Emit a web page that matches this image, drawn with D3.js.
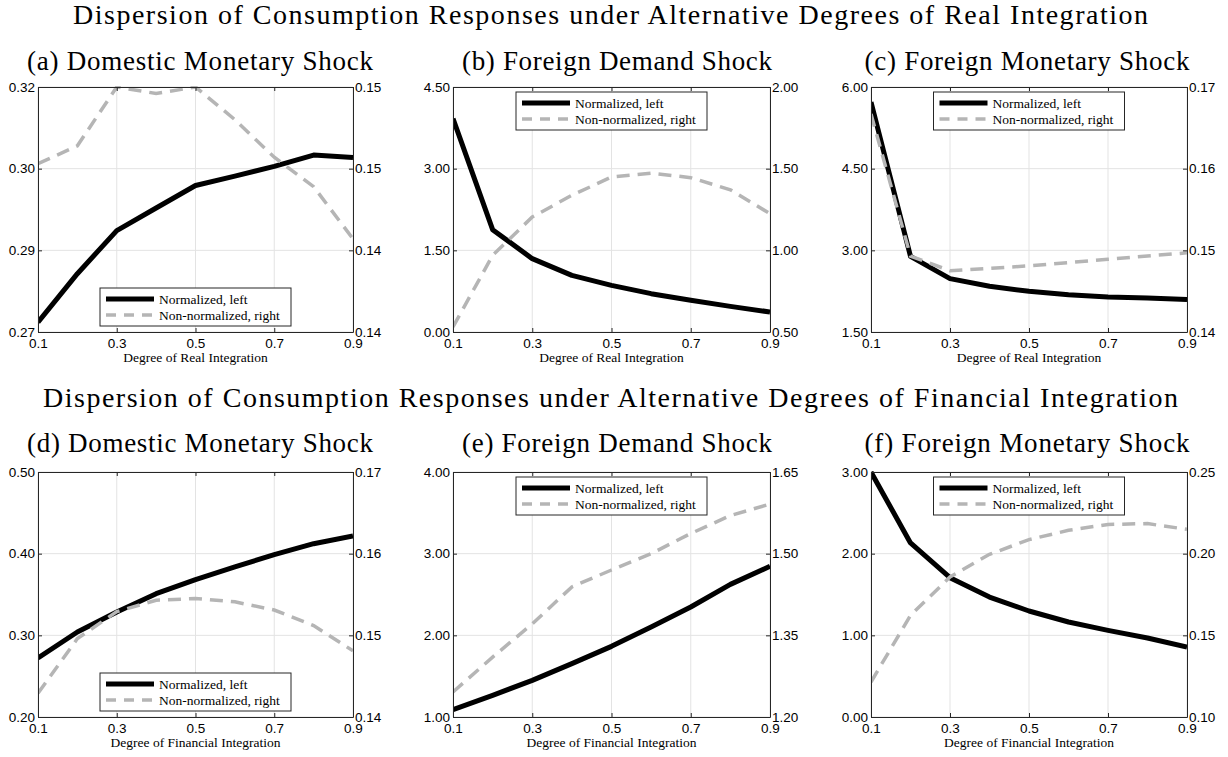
<!DOCTYPE html>
<html>
<head>
<meta charset="utf-8">
<script src="https://cdn.jsdelivr.net/npm/d3@7"></script>
<style>
  html, body { margin: 0; padding: 0; background: #fff; }
  svg { display: block; }
</style>
</head>
<body>
<svg id="chart" width="1228" height="757"></svg>
<script>
// ---------------- DATA ----------------
const xValues = [0.1, 0.2, 0.3, 0.4, 0.5, 0.6, 0.7, 0.8, 0.9];
const xTickValues = [0.1, 0.3, 0.5, 0.7, 0.9];
const xTickLabels = ["0.1", "0.3", "0.5", "0.7", "0.9"];

const rowTitles = [
  "Dispersion of Consumption Responses under Alternative Degrees of Real Integration",
  "Dispersion of Consumption Responses under Alternative Degrees of Financial Integration"
];
const xAxisLabels = ["Degree of Real Integration", "Degree of Financial Integration"];
const panelTitles = [
  "(a) Domestic Monetary Shock", "(b) Foreign Demand Shock", "(c) Foreign Monetary Shock",
  "(d) Domestic Monetary Shock", "(e) Foreign Demand Shock", "(f) Foreign Monetary Shock"
];
const legendLabels = ["Normalized, left", "Non-normalized, right"];

// Normalized (left axis) series
const normalizedA = [0.2720, 0.2819, 0.2907, 0.2953, 0.2999, 0.3018, 0.3038, 0.3061, 0.3056];
const normalizedB = [3.918, 1.880, 1.347, 1.041, 0.857, 0.704, 0.582, 0.471, 0.367];
const normalizedC = [5.724, 2.890, 2.480, 2.339, 2.247, 2.186, 2.143, 2.124, 2.099];
const normalizedD = [0.2722, 0.3041, 0.3286, 0.3510, 0.3682, 0.3837, 0.3988, 0.4122, 0.4216];
const normalizedE = [1.090, 1.265, 1.449, 1.653, 1.865, 2.102, 2.347, 2.624, 2.845];
const normalizedF = [3.000, 2.131, 1.706, 1.469, 1.298, 1.163, 1.061, 0.967, 0.857];

// Non-normalized (right axis) series
const nonNormalizedA = [0.1483, 0.1494, 0.1530, 0.1526, 0.1530, 0.1510, 0.1487, 0.1469, 0.1437];
const nonNormalizedB = [0.531, 0.969, 1.204, 1.337, 1.449, 1.473, 1.445, 1.371, 1.224];
const nonNormalizedC = [0.1667, 0.1493, 0.1475, 0.1478, 0.1481, 0.1485, 0.1489, 0.1493, 0.1497];
const nonNormalizedD = [0.1429, 0.1496, 0.1529, 0.1543, 0.1545, 0.1541, 0.1531, 0.1512, 0.1481];
const nonNormalizedE = [1.246, 1.310, 1.371, 1.439, 1.470, 1.500, 1.537, 1.570, 1.591];
const nonNormalizedF = [0.1214, 0.1622, 0.1857, 0.1996, 0.2086, 0.2143, 0.2179, 0.2184, 0.2149];

// Axis domains
const leftDomains = [[0.27, 0.32], [0, 4.5], [1.5, 6.0], [0.20, 0.50], [1.0, 4.0], [0.0, 3.0]];
const rightDomains = [[0.138, 0.153], [0.5, 2.0], [0.14, 0.17], [0.14, 0.17], [1.20, 1.65], [0.10, 0.25]];

// Tick labels (4 evenly spaced ticks per y axis)
const leftTickLabels = [
  ["0.27", "0.29", "0.30", "0.32"],
  ["0.00", "1.50", "3.00", "4.50"],
  ["1.50", "3.00", "4.50", "6.00"],
  ["0.20", "0.30", "0.40", "0.50"],
  ["1.00", "2.00", "3.00", "4.00"],
  ["0.00", "1.00", "2.00", "3.00"]
];
const rightTickLabels = [
  ["0.14", "0.14", "0.15", "0.15"],
  ["0.50", "1.00", "1.50", "2.00"],
  ["0.14", "0.15", "0.16", "0.17"],
  ["0.14", "0.15", "0.16", "0.17"],
  ["1.20", "1.35", "1.50", "1.65"],
  ["0.10", "0.15", "0.20", "0.25"]
];
const legendPlacement = ["south", "north", "north", "south", "north", "north"];

const normalizedSeries = [normalizedA, normalizedB, normalizedC, normalizedD, normalizedE, normalizedF];
const nonNormalizedSeries = [nonNormalizedA, nonNormalizedB, nonNormalizedC, nonNormalizedD, nonNormalizedE, nonNormalizedF];

// ---------------- LAYOUT ----------------
const serif = "'Liberation Serif', 'DejaVu Serif', serif";
const sans = "'Liberation Sans', Arial, sans-serif";
const plotLefts = [38, 453, 871];
const plotRights = [353, 770, 1187];
const plotTops = [87, 472];
const plotBottoms = [332, 717];
const rowTitleY = [24, 407];
const rowTitleX = [610.5, 610.5];
const rowTitleW = [1075, 1135];
const panelTitleY = [70, 452];

const svg = d3.select("#chart");
const defs = svg.append("defs");

// stretch a text to a target width using a little letter spacing
function fitText(sel, target) {
  const w = sel.node().getComputedTextLength();
  const n = sel.text().length;
  const ls = Math.max(0, (target - w) / (n - 1));
  sel.attr("letter-spacing", ls.toFixed(3));
  sel.attr("x", +sel.attr("x") + ls / 2);
}

rowTitles.forEach((t, r) => {
  const s = svg.append("text")
    .attr("x", rowTitleX[r]).attr("y", rowTitleY[r])
    .attr("text-anchor", "middle")
    .attr("font-family", serif).attr("font-size", 28)
    .attr("fill", "#000").text(t);
  fitText(s, rowTitleW[r]);
});

for (let p = 0; p < 6; p++) {
  const row = Math.floor(p / 3), col = p % 3;
  const L = plotLefts[col], R = plotRights[col], T = plotTops[row], B = plotBottoms[row];

  const x = d3.scaleLinear().domain([0.1, 0.9]).range([L, R]);
  const yL = d3.scaleLinear().domain(leftDomains[p]).range([B, T]);
  const yR = d3.scaleLinear().domain(rightDomains[p]).range([B, T]);
  const ticksOf = dom => d3.range(4).map(i => dom[0] + i * (dom[1] - dom[0]) / 3);
  const lTicks = ticksOf(leftDomains[p]);
  const rTicks = ticksOf(rightDomains[p]);

  const g = svg.append("g");

  g.append("rect").attr("x", L).attr("y", T).attr("width", R - L).attr("height", B - T).attr("fill", "#fff");

  // grid
  g.selectAll(".gx").data(xTickValues).enter().append("line")
    .attr("x1", d => x(d)).attr("x2", d => x(d)).attr("y1", T).attr("y2", B)
    .attr("stroke", "#e3e3e3").attr("stroke-width", 1);
  g.selectAll(".gy").data(lTicks).enter().append("line")
    .attr("y1", d => yL(d)).attr("y2", d => yL(d)).attr("x1", L).attr("x2", R)
    .attr("stroke", "#e3e3e3").attr("stroke-width", 1);

  const clipId = "clip" + p;
  defs.append("clipPath").attr("id", clipId).append("rect")
    .attr("x", L).attr("y", T - 1).attr("width", R - L).attr("height", B - T + 2);

  const lineL = d3.line().x((d, i) => x(xValues[i])).y(d => yL(d));
  const lineR = d3.line().x((d, i) => x(xValues[i])).y(d => yR(d));

  const lines = g.append("g").attr("clip-path", `url(#${clipId})`);
  lines.append("path").datum(normalizedSeries[p]).attr("d", lineL)
    .attr("fill", "none").attr("stroke", "#000").attr("stroke-width", 5)
    .attr("stroke-linejoin", "round");
  lines.append("path").datum(nonNormalizedSeries[p]).attr("d", lineR)
    .attr("fill", "none").attr("stroke", "#b5b5b5").attr("stroke-width", 3.5)
    .attr("stroke-dasharray", "13,8");

  const axisStyle = a => {
    a.select(".domain").attr("stroke", "#262626").attr("stroke-width", 1);
    a.selectAll(".tick line").attr("stroke", "#262626");
    a.selectAll(".tick text").attr("font-family", sans).attr("font-size", 13.5).attr("fill", "#000");
  };
  const ax = g.append("g").attr("transform", `translate(0,${B})`)
    .call(d3.axisBottom(x).tickValues(xTickValues).tickFormat((d, i) => xTickLabels[i])
      .tickSizeInner(-4).tickSizeOuter(0).tickPadding(6));
  axisStyle(ax);
  ax.selectAll(".tick text").attr("y", 6).attr("dy", "0.71em");
  const axTop = g.append("g").attr("transform", `translate(0,${T})`)
    .call(d3.axisTop(x).tickValues(xTickValues).tickFormat("").tickSizeInner(-4).tickSizeOuter(0));
  axisStyle(axTop);
  const ayL = g.append("g").attr("transform", `translate(${L},0)`)
    .call(d3.axisLeft(yL).tickValues(lTicks).tickFormat((d, i) => leftTickLabels[p][i])
      .tickSizeInner(-4).tickSizeOuter(0).tickPadding(4));
  axisStyle(ayL);
  ayL.selectAll(".tick text").attr("x", -3);
  const ayR = g.append("g").attr("transform", `translate(${R},0)`)
    .call(d3.axisRight(yR).tickValues(rTicks).tickFormat((d, i) => rightTickLabels[p][i])
      .tickSizeInner(-4).tickSizeOuter(0).tickPadding(4));
  axisStyle(ayR);
  ayR.selectAll(".tick text").attr("x", 2);

  // panel title
  const centers = [200, 617, 1027];
  const targets = [346, 310, 325];
  const pt = svg.append("text")
    .attr("x", centers[col]).attr("y", panelTitleY[row])
    .attr("text-anchor", "middle")
    .attr("font-family", serif).attr("font-size", 27)
    .attr("fill", "#000").text(panelTitles[p]);
  fitText(pt, targets[col]);

  // x axis label
  svg.append("text")
    .attr("x", (L + R) / 2).attr("y", B + 30)
    .attr("text-anchor", "middle")
    .attr("font-family", serif).attr("font-size", 13.5)
    .attr("fill", "#000").text(xAxisLabels[row]);

  // legend
  const lw = 191, lh = 38;
  const lx = (L + R) / 2 - lw / 2;
  const ly = legendPlacement[p] === "north" ? T + 5 : B - 6 - lh;
  const lg = g.append("g");
  lg.append("rect").attr("x", lx).attr("y", ly).attr("width", lw).attr("height", lh)
    .attr("fill", "#fff").attr("stroke", "#262626").attr("stroke-width", 1);
  lg.append("line").attr("x1", lx + 6).attr("x2", lx + 54).attr("y1", ly + 11).attr("y2", ly + 11)
    .attr("stroke", "#000").attr("stroke-width", 5);
  lg.append("line").attr("x1", lx + 6).attr("x2", lx + 54).attr("y1", ly + 27).attr("y2", ly + 27)
    .attr("stroke", "#b5b5b5").attr("stroke-width", 3.5).attr("stroke-dasharray", "10,8");
  legendLabels.forEach((t, i) => {
    lg.append("text").attr("x", lx + 59).attr("y", ly + 11 + i * 16)
      .attr("dy", "0.35em")
      .attr("font-family", serif).attr("font-size", 13.5).attr("fill", "#000").text(t);
  });
}
</script>
</body>
</html>
